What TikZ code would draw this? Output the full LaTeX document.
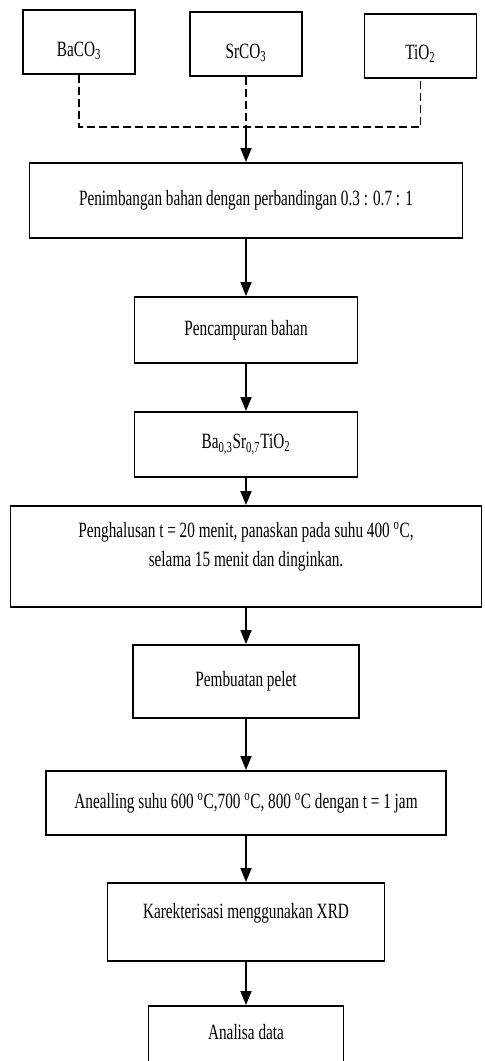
\documentclass[tikz,border=0pt]{standalone}
\usepackage{fontspec}
\setmainfont{Liberation Serif}[FakeStretch=0.7]
\usetikzlibrary{arrows.meta,positioning}
\tikzset{
  basic/.style  = {draw, rectangle, line width=0.45mm, inner sep=0pt, align=center,
                   font=\fontsize{15.5pt}{21.3pt}\selectfont},
  raw/.style    = {basic, minimum width=28mm, minimum height=16mm,
                   text height=7mm, text depth=0mm},
  flow/.style   = {-{Triangle[length=3.5mm,width=2.8mm]}, line width=0.3mm},
  merge/.style  = {line width=0.4mm, dash pattern=on 2mm off 1mm}
}

\begin{document}
\begin{tikzpicture}
\useasboundingbox (0,0) rectangle (121.25mm,-265.25mm);
\clip (0,0) rectangle (121.25mm,-265.25mm);

% raw materials, top row
\node[raw] (r1) at (19.75mm,-10.5mm) {BaCO\textsubscript{3}};
\node[raw] (r2) at (61.5mm,-11mm)    {SrCO\textsubscript{3}};
\node[raw] (r3) at (105.1mm,-11.4mm) {TiO\textsubscript{2}};

% process steps, one below the other
\node[basic, minimum width=108.25mm, minimum height=18.75mm] (c1) at (61.5mm,-50.1mm)
  {Penimbangan bahan dengan perbandingan 0.3 : 0.7 : 1};
\node[basic, minimum width=55.75mm, minimum height=16.5mm, below=14.3mm of c1] (c2)
  {Pencampuran bahan};
\node[basic, minimum width=55.75mm, minimum height=16.25mm, below=11.8mm of c2] (c3)
  {Ba\textsubscript{0,3}Sr\textsubscript{0,7}TiO\textsubscript{2}};
\node[basic, minimum width=117.75mm, minimum height=25.25mm, below=6.8mm of c3] (c4)
  {Penghalusan t = 20 menit, panaskan pada suhu 400 \textsuperscript{o}C,\\
   selama 15 menit dan dinginkan.\\[-1.5mm]};
\node[basic, minimum width=56.5mm, minimum height=18.25mm, below=9.05mm of c4] (c5)
  {Pembuatan pelet};
\node[basic, minimum width=100mm, minimum height=16mm, below=12.8mm of c5] (c6)
  {Anealling suhu 600 \textsuperscript{o}C,700 \textsuperscript{o}C, 800 \textsuperscript{o}C dengan t = 1 jam};
\node[basic, minimum width=69.25mm, minimum height=19.5mm, below=11.55mm of c6,
      text height=3.8mm, text depth=5.6mm] (c7)
  {Karekterisasi menggunakan XRD};
\node[basic, minimum width=48.75mm, minimum height=18mm, below=10.8mm of c7,
      text height=3.8mm, text depth=5mm] (c8)
  {Analisa data};

% dashed lines joining the three materials
\coordinate (j) at (61.5mm,-31.75mm);
\draw[merge] (r1.south) -- (r1.south |- j) -- (r3.south |- j) -- (r3.south);
\draw[merge] (r2.south) -- (r2.south |- j);

% arrows between the steps
\draw[flow] (j) -- (c1);
\foreach \a/\b in {c1/c2, c2/c3, c3/c4, c4/c5, c5/c6, c6/c7, c7/c8}
  \draw[flow] (\a) -- (\b);

\end{tikzpicture}
\end{document}
